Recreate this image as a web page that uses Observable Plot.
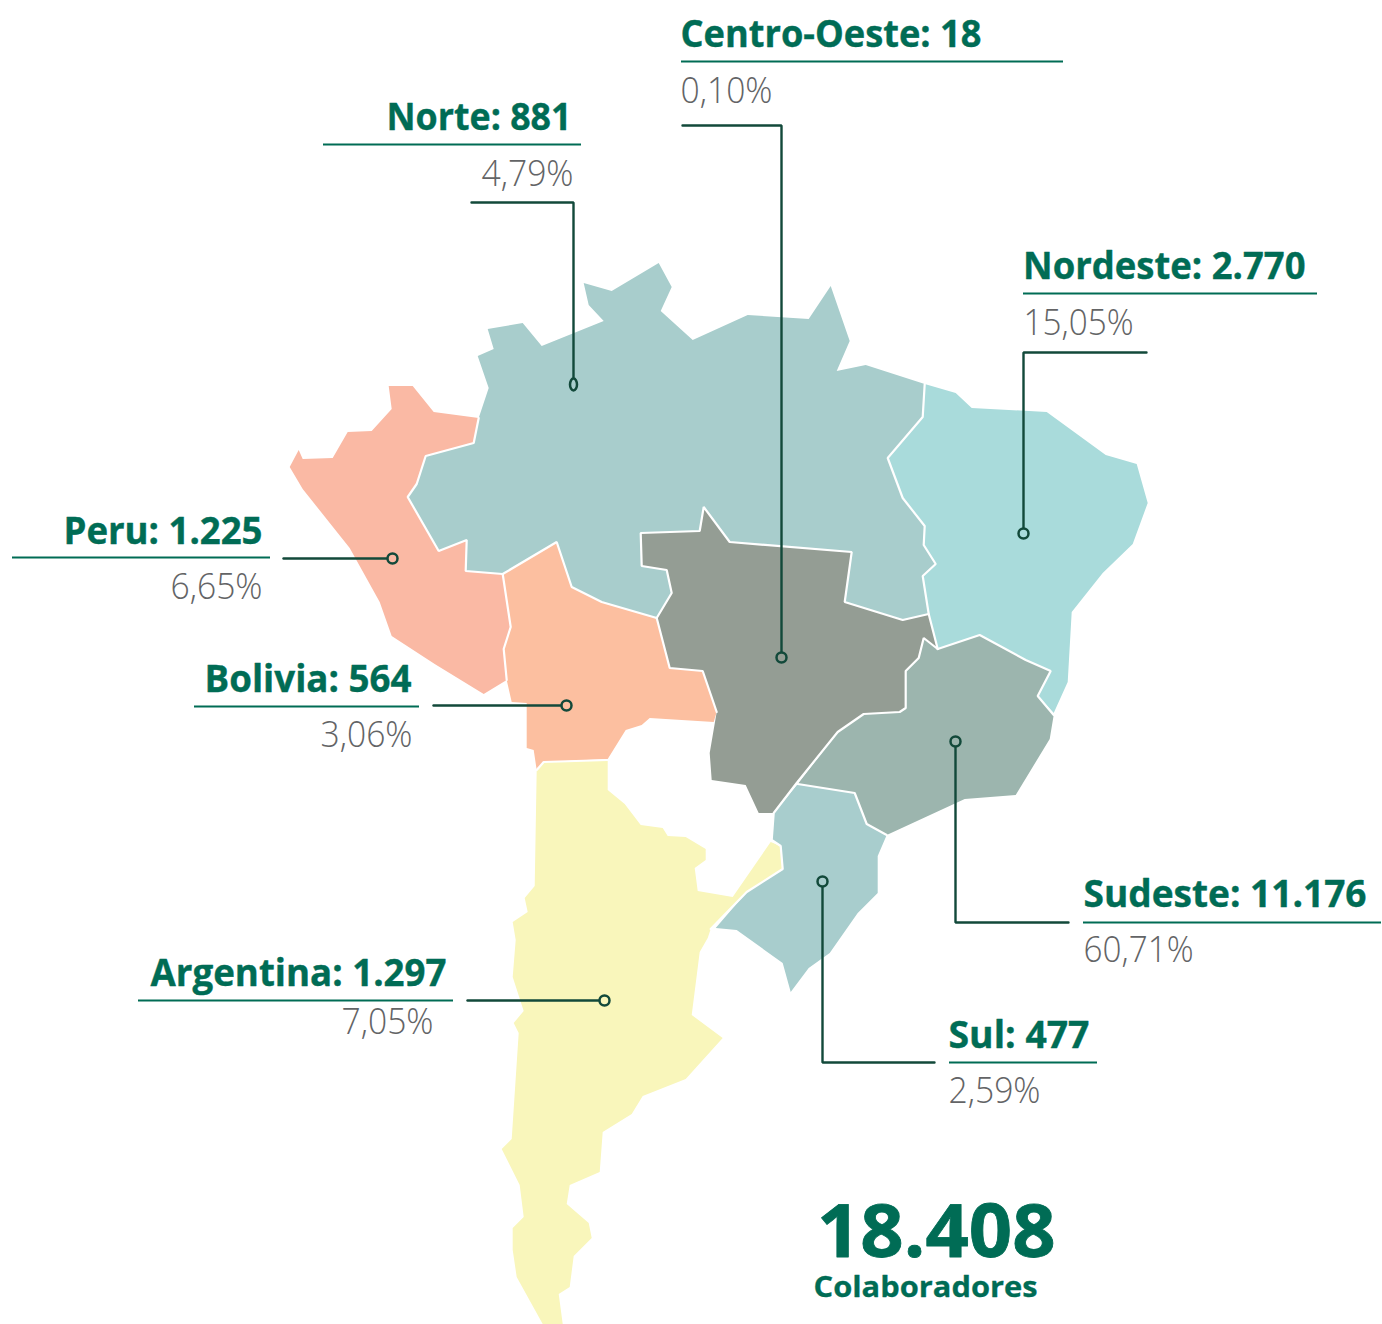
<!DOCTYPE html>
<html><head><meta charset="utf-8">
<style>html,body{margin:0;padding:0;background:#fff}svg{display:block}</style>
<script src="https://cdn.jsdelivr.net/npm/d3@7"></script>
<script src="https://cdn.jsdelivr.net/npm/@observablehq/plot@0.6"></script>
</head><body><div id="chart"></div>
<script>
// Region outlines
const norte = [[489,388],[478,356],[494,349],[488,329],[523,323],[542,346],[604,321],[589,305],[584,283],[612,291],[659,263],[672,287],[661,311],[693,340],[748,315],[809,319],[831,286],[850,341],[837,371],[866,365],[925,384],[923,417],[888,458],[903,498],[925,526],[924,545],[936,564],[923,576],[929,614],[903,620],[845,602],[852,552],[730,542],[704,507],[700,531],[641,533],[642,566],[667,570],[672,593],[657,618],[602,602],[572,587],[557,542],[503,574],[466,571],[467,540],[439,551],[408,497],[417,484],[426,456],[474,443],[479,418],[489,388]];
const peru = [[389,386],[413,386],[434,412],[479,418],[474,443],[426,456],[417,484],[408,497],[439,551],[467,540],[466,571],[503,574],[511,627],[504,649],[507,680],[484,694],[435,664],[392,636],[380,602],[350,548],[303,489],[290,467],[299,450],[303,459],[333,458],[348,432],[372,431],[392,409],[389,386]];
const bolivia = [[503,574],[557,542],[572,587],[602,602],[657,618],[670,668],[703,671],[717,712],[714,722],[650,718],[642,725],[626,730],[608,759],[544,762],[537,770],[534,750],[527,748],[527,703],[512,702],[507,680],[504,649],[511,627],[503,574]];
const nordeste = [[925,384],[956,393],[972,408],[1047,412],[1106,455],[1137,464],[1148,503],[1133,544],[1103,573],[1072,612],[1068,682],[1054,713],[1038,696],[1051,671],[1026,660],[980,635],[938,649],[929,614],[923,576],[936,564],[924,545],[925,526],[903,498],[888,458],[923,417],[925,384]];
const centroOeste = [[641,533],[700,531],[704,507],[730,542],[852,552],[845,602],[903,620],[929,614],[938,649],[924,638],[919,658],[906,671],[906,708],[900,712],[864,714],[838,732],[797,783],[774,813],[759,813],[746,785],[712,780],[710,753],[717,712],[703,671],[670,668],[657,618],[672,593],[667,570],[642,566],[641,533]];
const sudeste = [[938,649],[980,635],[1026,660],[1051,671],[1038,696],[1054,715],[1050,739],[1016,795],[965,799],[887,835],[867,824],[855,793],[798,784],[838,732],[864,714],[900,712],[906,708],[906,671],[919,658],[924,638],[938,649]];
const sul = [[798,784],[855,793],[867,824],[887,835],[878,856],[878,893],[858,913],[830,953],[809,968],[791,992],[783,963],[737,930],[716,928],[747,892],[783,869],[781,846],[772,840],[774,813],[798,784]];
const argentina = [[544,762],[608,760],[608,790],[625,804],[641,825],[663,828],[668,836],[686,837],[706,849],[706,860],[695,868],[698,891],[733,897],[771,842],[781,846],[783,869],[747,892],[711,929],[708,938],[700,952],[692,1015],[723,1038],[686,1079],[643,1096],[632,1114],[603,1132],[600,1172],[570,1185],[567,1204],[589,1223],[592,1238],[574,1256],[570,1287],[559,1294],[563,1324],[543,1324],[517,1277],[513,1250],[513,1228],[524,1217],[520,1185],[502,1149],[512,1139],[519,1033],[514,1023],[524,1011],[513,977],[516,940],[513,922],[528,912],[525,898],[535,886],[537,770],[544,762]];

// Shared borders between regions
const borders = [
  [[479,418],[474,443],[426,456],[417,484],[408,497],[439,551],[467,540],[466,571],[503,574]],
  [[503,574],[511,627],[504,649],[507,680]],
  [[503,574],[557,542],[572,587],[602,602],[657,618]],
  [[657,618],[672,593],[667,570],[642,566],[641,533],[700,531],[704,507],[730,542],[852,552],[845,602],[903,620],[929,614]],
  [[925,384],[923,417],[888,458],[903,498],[925,526],[924,545],[936,564],[923,576],[929,614],[938,649]],
  [[938,649],[980,635],[1026,660],[1051,671],[1038,696],[1054,715]],
  [[938,649],[924,638],[919,658],[906,671],[906,708],[900,712],[864,714],[838,732],[797,783],[774,813],[772,840],[781,846],[783,869],[747,892],[711,929]],
  [[798,784],[855,793],[867,824],[887,835]],
  [[657,618],[670,668],[703,671],[717,712]],
  [[537,770],[544,762],[608,760]]
];

const regions = [norte, peru, bolivia, nordeste, centroOeste, sudeste, sul, argentina];
const regionFills = ["#a8cdcc","#fab9a4","#fcbfa0","#a9dbdb","#949d94","#9cb5ae","#a8cdcd","#f9f6bb"];

// Labels
const names = ["Centro-Oeste: 18","Norte: 881","Nordeste: 2.770","Peru: 1.225","Bolivia: 564","Sudeste: 11.176","Sul: 477","Argentina: 1.297"];
const shares = ["0,10%","4,79%","15,05%","6,65%","3,06%","60,71%","2,59%","7,05%"];
const nameAt = [[680,46.5],[571,129.5],[1022.5,278.5],[262,543],[411,691.5],[1083,906.5],[948,1047],[446,985.5]];
const shareAt = [[680,102],[573,185],[1023,334],[262,598],[412,746],[1083,961],[948,1102],[433,1033]];
const nameWidths = [301,185,282.5,199,207,283,141,296];
const shareWidths = [92,92,110,92,92,110,92,92];
const anchors = ["start","end","start","end","end","start","start","end"];
const underlines = [[681,1063,61],[323,581,144],[1023,1317,293],[12,270,557],[194,419,706],[1083,1381,922],[949,1097,1062],[138,453,1000]];
const leaders = [
  [[682,125],[781,125],[781,657]],
  [[471,202],[573,202],[573,384]],
  [[1146,352],[1023,352],[1023,533]],
  [[283,558],[392,558]],
  [[433,705],[566,705]],
  [[1068,922],[955,922],[955,741]],
  [[934,1062],[822,1062],[822,881]],
  [[467,1000],[604,1000]]
];
const dotFills = ["#949d94","#a8cdcc","#a9dbdb","#fab9a4","#fcbfa0","#9cb5ae","#a8cdcd","#f9f6bb"];
const ends = leaders.map((l,i) => ({x:l[l.length-1][0],y:l[l.length-1][1],fill:dotFills[i]}));
const total = "18.408", totalLabel = "Colaboradores";
const totalWidth = 238.5, totalLabelWidth = 224;

const GREEN="#006c55", DARK="#12493a", GREY="#636466";
const FONT="'Open Sans','Noto Sans',sans-serif";
const rows = names.map((n,i)=>({n,s:shares[i],a:anchors[i],nx:nameAt[i][0],ny:nameAt[i][1],sx:shareAt[i][0],sy:shareAt[i][1],nw:nameWidths[i],sw:shareWidths[i]}));
// squeeze a text to the width it has in the picture
const fit = (widthOf)=>function(index,s,v,d,c,next){
  const g=next(index,s,v,d,c);
  d3.select(g).selectAll("text").each(function(_,j){this.setAttribute("textLength",widthOf(index[j]));this.setAttribute("lengthAdjust","spacingAndGlyphs");});
  return g;
};
const txt = (a)=>{
  const data=rows.filter(d=>d.a===a);
  return [
    Plot.text(data,{x:"nx",y:"ny",text:"n",textAnchor:a,lineAnchor:"bottom",fill:GREEN,stroke:GREEN,strokeWidth:0.4,fontWeight:700,fontSize:37.5,fontFamily:FONT,render:fit(i=>data[i].nw)}),
    Plot.text(data,{x:"sx",y:"sy",text:"s",textAnchor:a,lineAnchor:"bottom",fill:GREY,fontWeight:300,fontSize:37.5,fontFamily:FONT,render:fit(i=>data[i].sw)})
  ];
};
const oval = {draw(c,size){const ry=6,rx=3.5,k=.5523;c.moveTo(rx,0);c.bezierCurveTo(rx,k*ry,k*rx,ry,0,ry);c.bezierCurveTo(-k*rx,ry,-rx,k*ry,-rx,0);c.bezierCurveTo(-rx,-k*ry,-k*rx,-ry,0,-ry);c.bezierCurveTo(k*rx,-ry,rx,-k*ry,rx,0);c.closePath();}};

const chart = Plot.plot({
  width:1382,height:1324,margin:0,
  x:{domain:[0,1382],axis:null},
  y:{domain:[1324,0],axis:null},
  marks:[
    ...regions.map((r,i)=>Plot.line(r,{x:d=>d[0],y:d=>d[1],fill:regionFills[i],stroke:"none",curve:"linear",dx:-0.8,dy:-0.5})),
    ...borders.map(b=>Plot.line(b,{x:d=>d[0],y:d=>d[1],stroke:"#fff",strokeWidth:2.2,strokeLinejoin:"miter",dx:-0.8,dy:-0.5})),
    Plot.ruleY(underlines,{x1:d=>d[0],x2:d=>d[1],y:d=>d[2],stroke:GREEN,strokeWidth:2}),
    ...leaders.map(l=>Plot.line(l,{x:d=>d[0],y:d=>d[1],stroke:DARK,strokeWidth:2.4,strokeLinejoin:"miter"})),
    Plot.dot(ends.filter((d,i)=>i!==1),{x:"x",y:"y",r:5,stroke:DARK,strokeWidth:2.5,fill:"fill"}),
    Plot.dot(ends.filter((d,i)=>i===1),{x:"x",y:"y",symbol:oval,stroke:DARK,strokeWidth:2.5,fill:"fill"}),
    ...txt("start"),...txt("end"),
    Plot.text([total],{x:()=>816.5,y:()=>1256,text:d=>d,textAnchor:"start",lineAnchor:"bottom",fill:GREEN,stroke:GREEN,strokeWidth:0.8,fontWeight:700,fontSize:73,fontFamily:FONT,render:fit(()=>totalWidth)}),
    Plot.text([totalLabel],{x:()=>813,y:()=>1296,text:d=>d,textAnchor:"start",lineAnchor:"bottom",fill:GREEN,stroke:GREEN,strokeWidth:0.3,fontWeight:700,fontSize:29,fontFamily:FONT,render:fit(()=>totalLabelWidth)})
  ]
});
document.getElementById("chart").append(chart);
</script></body></html>
